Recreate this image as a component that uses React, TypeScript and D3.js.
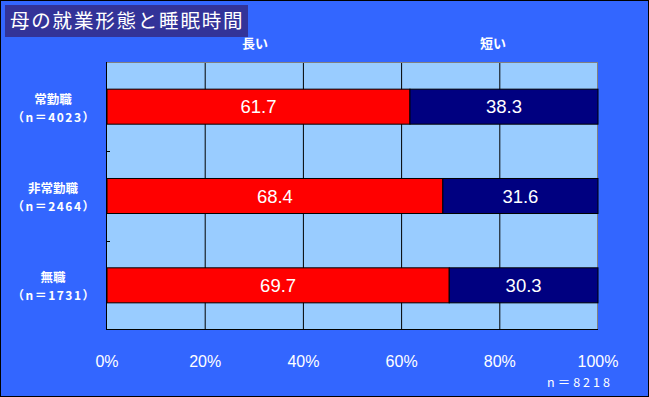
import * as d3 from 'd3';

const categories = ['常勤職', '非常勤職', '無職'];
const counts = ['（n＝4023）', '（n＝2464）', '（n＝1731）'];
const longShare = [61.7, 68.4, 69.7];
const shortShare = [38.3, 31.6, 30.3];
const xTicks = [0, 20, 40, 60, 80, 100];

const W = 649;
const H = 397;
const plot = { left: 107, right: 598, top: 62, bottom: 330 };
const jp = '"Noto Sans CJK JP", sans-serif';
const num = '"Liberation Sans", Arial, sans-serif';

export default function App() {
  const x = d3.scaleLinear().domain([0, 100]).range([plot.left, plot.right]);
  const y = d3
    .scaleBand()
    .domain(categories)
    .range([plot.top, plot.bottom])
    .paddingInner(0.608)
    .paddingOuter(0.304);
  const step = y.step();

  return (
    <svg
      width={W}
      height={H}
      style={{ position: 'absolute', left: 0, top: 0, display: 'block' }}
    >
      <rect x={0.5} y={0.5} width={W - 1} height={H - 1} fill="#3366FF" stroke="#000" />

      {/* title */}
      <rect x={5} y={5} width={243} height={32} fill="#333399" />
      <text x={10} y={28} fill="#fff" fontFamily={jp} fontSize={19.5} letterSpacing={1.8}>
        母の就業形態と睡眠時間
      </text>

      {/* series names */}
      <text x={255} y={48} fill="#fff" fontFamily={jp} fontSize={13} fontWeight="bold" textAnchor="middle">
        長い
      </text>
      <text x={493} y={48} fill="#fff" fontFamily={jp} fontSize={13} fontWeight="bold" textAnchor="middle">
        短い
      </text>

      {/* plot area */}
      <rect
        x={plot.left}
        y={plot.top}
        width={plot.right - plot.left}
        height={plot.bottom - plot.top}
        fill="#99CCFF"
      />
      {xTicks.slice(1, -1).map((t) => (
        <line key={t} x1={x(t)} x2={x(t)} y1={plot.top} y2={plot.bottom} stroke="#000" />
      ))}
      <line x1={plot.left} x2={plot.right} y1={plot.top + 0.5} y2={plot.top + 0.5} stroke="#808080" />
      <line x1={plot.right - 0.5} x2={plot.right - 0.5} y1={plot.top} y2={plot.bottom} stroke="#808080" />

      {/* bars */}
      {categories.map((c, i) => {
        const by = y(c) ?? 0;
        const bh = y.bandwidth();
        const x0 = x(0);
        const x1 = x(longShare[i]);
        const x2 = x(longShare[i] + shortShare[i]);
        return (
          <g key={c}>
            <rect x={x0} y={by} width={x1 - x0} height={bh} fill="#FF0000" stroke="#000" />
            <rect x={x1} y={by} width={x2 - x1} height={bh} fill="#000080" stroke="#000" />
            <text x={(x0 + x1) / 2} y={by + bh / 2 + 6.5} fill="#fff" fontFamily={num} fontSize={18.5} textAnchor="middle">
              {longShare[i].toFixed(1)}
            </text>
            <text x={(x1 + x2) / 2} y={by + bh / 2 + 6.5} fill="#fff" fontFamily={num} fontSize={18.5} textAnchor="middle">
              {shortShare[i].toFixed(1)}
            </text>
            <text x={53} y={by + bh / 2 - 3} fill="#fff" fontFamily={jp} fontSize={12.5} fontWeight="bold" textAnchor="middle">
              {c}
            </text>
            <text x={54} y={by + bh / 2 + 15} fill="#fff" fontFamily={jp} fontSize={12} fontWeight="bold" textAnchor="middle" letterSpacing={1.5}>
              {counts[i]}
            </text>
          </g>
        );
      })}

      {/* axes */}
      <line x1={plot.left - 0.5} x2={plot.left - 0.5} y1={plot.top} y2={plot.bottom} stroke="#000" />
      <line x1={plot.left} x2={plot.right} y1={plot.bottom - 0.5} y2={plot.bottom - 0.5} stroke="#000" />
      {categories.slice(1).map((c) => {
        const ty = Math.round((y(c) ?? 0) - step * 0.304) + 0.5;
        return <line key={c} x1={plot.left} x2={plot.left + 3} y1={ty} y2={ty} stroke="#000" />;
      })}
      {xTicks.map((t) => (
        <text key={t} x={x(t)} y={367} fill="#fff" fontFamily={num} fontSize={16} textAnchor="middle">
          {t}%
        </text>
      ))}
      <text x={580} y={387} fill="#fff" fontFamily={jp} fontSize={12.5} textAnchor="middle" letterSpacing={3}>
        n＝8218
      </text>
    </svg>
  );
}
